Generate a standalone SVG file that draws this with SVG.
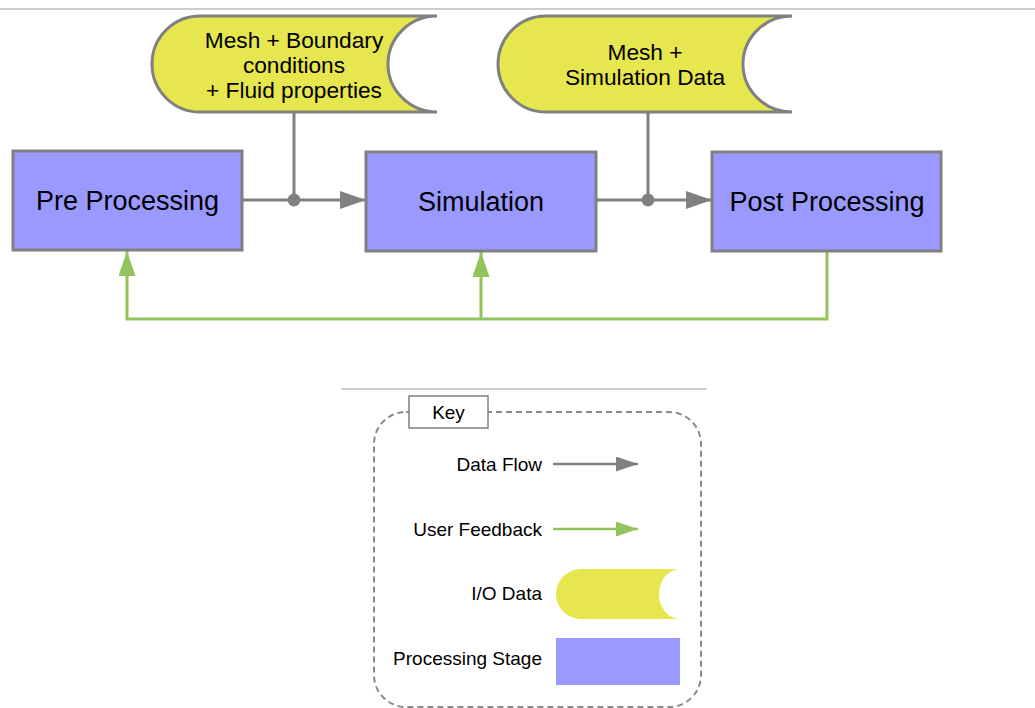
<svg xmlns="http://www.w3.org/2000/svg" width="1035" height="708" viewBox="0 0 1035 708">
  <style>
    .stage { fill: #9999ff; stroke: #808080; stroke-width: 3; }
    .io { fill: #e6e64e; stroke: #808080; stroke-width: 3; }
    .label { font-family: "Liberation Sans", Arial, sans-serif; fill: #000; }
    .big { font-size: 27px; }
    .mid { font-size: 22.7px; }
    .small { font-size: 19px; }
    .flow { fill: none; stroke: #808080; stroke-width: 3; }
    .feedback { fill: none; stroke: #93c35b; stroke-width: 3; }
    .rule { stroke: #bdbdbd; stroke-width: 1.5; }
  </style>
  <defs>
    <marker id="headGray" markerUnits="userSpaceOnUse" markerWidth="26" markerHeight="18" refX="26" refY="9" orient="auto">
      <path d="M0,0 L26,9 L0,18 Z" fill="#808080"/>
    </marker>
    <marker id="headGreen" markerUnits="userSpaceOnUse" markerWidth="25" markerHeight="17" refX="25" refY="8.5" orient="auto">
      <path d="M0,0 L25,8.5 L0,17 Z" fill="#93c35b"/>
    </marker>
    <marker id="keyGray" markerUnits="userSpaceOnUse" markerWidth="22" markerHeight="15" refX="22" refY="7.5" orient="auto">
      <path d="M0,0 L22,7.5 L0,15 Z" fill="#808080"/>
    </marker>
    <marker id="keyGreen" markerUnits="userSpaceOnUse" markerWidth="22" markerHeight="15" refX="22" refY="7.5" orient="auto">
      <path d="M0,0 L22,7.5 L0,15 Z" fill="#93c35b"/>
    </marker>
  </defs>

  <rect width="1035" height="708" fill="#ffffff"/>
  <line class="rule" x1="0" y1="9" x2="1035" y2="9"/>

  <!-- connectors -->
  <g id="connectors">
    <line class="flow" x1="294" y1="112" x2="294" y2="200"/>
    <line class="flow" x1="648" y1="112" x2="648" y2="200"/>
    <line class="flow" x1="242" y1="200" x2="366" y2="200" marker-end="url(#headGray)"/>
    <line class="flow" x1="596" y1="200" x2="712" y2="200" marker-end="url(#headGray)"/>
    <circle cx="294" cy="200" r="6.5" fill="#808080"/>
    <circle cx="648" cy="200" r="6.5" fill="#808080"/>
    <path class="feedback" d="M827,251 V319 H127 V251" marker-end="url(#headGreen)"/>
    <path class="feedback" d="M481,319 V252" marker-end="url(#headGreen)"/>
  </g>

  <!-- input data -->
  <g id="io-input">
    <path class="io" d="M200,16 H437 A49,48 0 0 0 437,112 H200 A48,48 0 0 1 200,16 Z"/>
    <text class="label mid" text-anchor="middle" x="294" y="48">Mesh + Boundary</text>
    <text class="label mid" text-anchor="middle" x="294" y="73">conditions</text>
    <text class="label mid" text-anchor="middle" x="294" y="98">+ Fluid properties</text>
  </g>

  <!-- simulation output data -->
  <g id="io-output">
    <path class="io" d="M546,16 H792 A49,48 0 0 0 792,112 H546 A48,48 0 0 1 546,16 Z"/>
    <text class="label mid" text-anchor="middle" x="645" y="60">Mesh +</text>
    <text class="label mid" text-anchor="middle" x="645" y="85">Simulation Data</text>
  </g>

  <!-- processing stages -->
  <g id="pre-processing">
    <rect class="stage" x="13" y="151" width="229" height="99"/>
    <text class="label big" text-anchor="middle" x="127.5" y="210">Pre Processing</text>
  </g>
  <g id="simulation">
    <rect class="stage" x="366" y="152" width="230" height="99"/>
    <text class="label big" text-anchor="middle" x="481" y="211">Simulation</text>
  </g>
  <g id="post-processing">
    <rect class="stage" x="712" y="152" width="229" height="99"/>
    <text class="label big" text-anchor="middle" x="827" y="211">Post Processing</text>
  </g>

  <!-- legend -->
  <g id="key">
    <line class="rule" x1="341" y1="389" x2="707" y2="389"/>
    <rect x="374" y="412" width="327" height="295" rx="32" ry="32" fill="none" stroke="#8a8a8a" stroke-width="2" stroke-dasharray="6,4"/>
    <rect x="409" y="396" width="79" height="32" fill="#ffffff" stroke="#808080" stroke-width="1.5"/>
    <text class="label small" text-anchor="middle" x="448.5" y="419">Key</text>

    <text class="label small" text-anchor="end" x="542" y="471">Data Flow</text>
    <line x1="553" y1="464" x2="638" y2="464" stroke="#808080" stroke-width="2.5" marker-end="url(#keyGray)"/>

    <text class="label small" text-anchor="end" x="542" y="536">User Feedback</text>
    <line x1="553" y1="529" x2="638" y2="529" stroke="#93c35b" stroke-width="2.5" marker-end="url(#keyGreen)"/>

    <text class="label small" text-anchor="end" x="542" y="600">I/O Data</text>
    <path d="M581,569 H680 A21,25 0 0 0 680,619 H581 A25,25 0 0 1 581,569 Z" fill="#e6e64e"/>

    <text class="label small" text-anchor="end" x="542" y="665">Processing Stage</text>
    <rect x="556" y="638" width="124" height="47" fill="#9999ff"/>
  </g>
</svg>
